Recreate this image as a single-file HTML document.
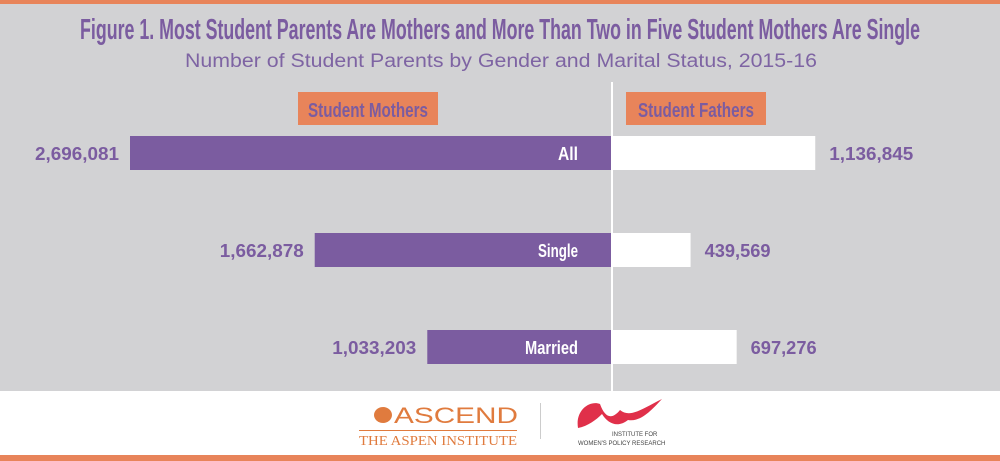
<!DOCTYPE html>
<html><head><meta charset="utf-8"><style>
html,body{margin:0;padding:0;width:1000px;height:461px;overflow:hidden;background:#fff}
svg{display:block}
</style></head><body>
<svg id="chart" width="1000" height="461" viewBox="0 0 1000 461" xmlns="http://www.w3.org/2000/svg">
<rect x="0" y="0" width="1000" height="4" fill="#e8845a"/>
<rect x="0" y="4" width="1000" height="387" fill="#d2d2d4"/>
<rect x="0" y="455" width="1000" height="6" fill="#e8845a"/>
<text x="500" y="39" text-anchor="middle" font-family="Liberation Sans Narrow, Liberation Sans, sans-serif" font-weight="bold" font-size="29" fill="#7b5ca0" textLength="840" lengthAdjust="spacingAndGlyphs">Figure 1. Most Student Parents Are Mothers and More Than Two in Five Student Mothers Are Single</text>
<text x="501" y="67" text-anchor="middle" font-family="Liberation Sans, sans-serif" font-size="19" fill="#7e64a3" textLength="632" lengthAdjust="spacingAndGlyphs">Number of Student Parents by Gender and Marital Status, 2015-16</text>
<rect x="298" y="92" width="140" height="33" fill="#e8845a"/>
<text x="368" y="117" text-anchor="middle" font-family="Liberation Sans Narrow, Liberation Sans, sans-serif" font-weight="bold" font-size="20" fill="#7b5ca0" textLength="120" lengthAdjust="spacingAndGlyphs">Student Mothers</text>
<rect x="626" y="92" width="140" height="33" fill="#e8845a"/>
<text x="696" y="117" text-anchor="middle" font-family="Liberation Sans Narrow, Liberation Sans, sans-serif" font-weight="bold" font-size="20" fill="#7b5ca0" textLength="116" lengthAdjust="spacingAndGlyphs">Student Fathers</text>
<g id="bars"></g>
<rect x="611" y="82" width="2" height="309" fill="#ffffff"/>
<g>
<ellipse cx="383" cy="415" rx="9" ry="8" fill="#e07b3e"/>
<text x="394" y="423" font-family="Liberation Sans, sans-serif" font-size="22" fill="#e07b3e" textLength="124" lengthAdjust="spacingAndGlyphs">ASCEND</text>
<rect x="359" y="430" width="158" height="1" fill="#e07b3e"/>
<text x="359" y="445" font-family="Liberation Serif, serif" font-size="14" fill="#e07b3e" textLength="158" lengthAdjust="spacingAndGlyphs">THE ASPEN INSTITUTE</text>
</g>
<rect x="540" y="403" width="1" height="36" fill="#ccc"/>
<g>
<path d="M578 428 C575 410 590 400 600 404 C605 418 612 420 620 410 C630 418 640 410 662 399 C650 412 640 422 628 420 C618 428 608 424 602 414 C596 420 588 426 578 428Z" fill="#e0304a"/>
<text x="612" y="436" font-family="Liberation Sans, sans-serif" font-size="6" fill="#444">INSTITUTE FOR</text>
<text x="578" y="445" font-family="Liberation Sans, sans-serif" font-size="6" fill="#444">WOMEN'S POLICY RESEARCH</text>
</g>
</svg>
<script>
const categories = ["All", "Single", "Married"];
const mothers = [2696081, 1662878, 1033203];
const fathers = [1136845, 439569, 697276];
const motherLabels = ["2,696,081", "1,662,878", "1,033,203"];
const fatherLabels = ["1,136,845", "439,569", "697,276"];

const centerX = 612, scale = 482 / 2696081;
const rowY = [136, 233, 330], barH = 34;
function xLen(v){ return v * scale; }
const NS = "http://www.w3.org/2000/svg";
const g = document.getElementById("bars");
function mk(tag, attrs){ const e = document.createElementNS(NS, tag); for (const k in attrs) e.setAttribute(k, attrs[k]); g.appendChild(e); return e; }
const font = "Liberation Sans Narrow, Liberation Sans, sans-serif";
const catW = {"All": 20, "Single": 40, "Married": 53};
categories.forEach((c, i) => {
  const y = rowY[i];
  const wm = xLen(mothers[i]), wf = xLen(fathers[i]);
  const bm = mk("rect", {x: centerX - wm, y: y, width: wm, height: barH, fill: "#7b5ca0"});
  
  
  const bf = mk("rect", {x: centerX, y: y, width: wf, height: barH, fill: "#ffffff"});
  
  
  const cl = mk("text", {x: centerX - 34, y: y + 24, "text-anchor": "end", "font-family": font, "font-weight": "bold", "font-size": 18, fill: "#fff", textLength: catW[c] || 40, lengthAdjust: "spacingAndGlyphs"});
  cl.textContent = c;
  
  
  const ml = mk("text", {x: centerX - wm - 11, y: y + 24, "text-anchor": "end", "font-family": font, "font-weight": "bold", "font-size": 18, fill: "#7b5ca0", textLength: 84, lengthAdjust: "spacingAndGlyphs"});
  ml.textContent = motherLabels[i];
  
  
  const fl = mk("text", {x: centerX + wf + 14, y: y + 24, "text-anchor": "start", "font-family": font, "font-weight": "bold", "font-size": 18, fill: "#7b5ca0", textLength: fatherLabels[i].length > 7 ? 84 : 66, lengthAdjust: "spacingAndGlyphs"});
  fl.textContent = fatherLabels[i];
  
  
});
</script>
</body></html>
